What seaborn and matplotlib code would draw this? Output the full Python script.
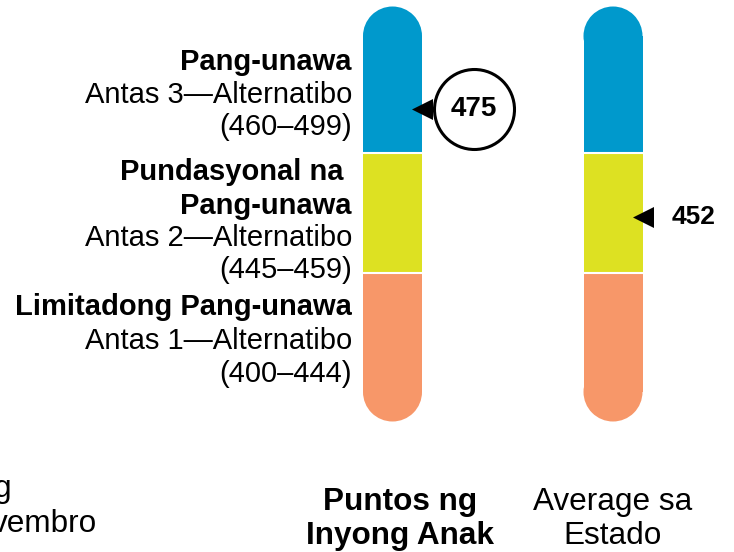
import numpy as np
import pandas as pd
import seaborn as sns
import matplotlib.pyplot as plt
from matplotlib.transforms import offset_copy

# data
groups = ["Puntos ng\nInyong Anak", "Average sa\nEstado"]
scores = [475, 452]
level_names = ["Limitadong Pang-unawa", "Pundasyonal na \nPang-unawa", "Pang-unawa"]
level_tiers = ["Antas 1\u2014Alternatibo", "Antas 2\u2014Alternatibo", "Antas 3\u2014Alternatibo"]
level_low = [400, 445, 460]
level_high = [445, 460, 500]
level_colors = ["#F79769", "#DDE122", "#0099CC"]
cut_text = ["g", "vembro"]

sns.set_style("white")
plt.rcParams["font.family"] = ["Liberation Sans", "DejaVu Sans"]
plt.rcParams["text.color"] = "black"
plt.rcParams["xtick.color"] = "black"
plt.rcParams["xtick.labelcolor"] = "black"

W, H = 734, 552
fig = plt.figure(figsize=(W / 100, H / 100), dpi=100)

# axes placed so category 0/1 fall on the two bars
unit = 220.5
ax_left = 392.5 - 0.5 * unit
ax_bottom = 82
ax = fig.add_axes([ax_left / W, ax_bottom / H, 2 * unit / W, (H - ax_bottom) / H])

bar_w = 59 / unit
for lo, hi, c in zip(level_low, level_high, level_colors):
    sns.barplot(x=groups, y=[hi - lo] * len(groups), bottom=lo, color=c,
                saturation=1, width=bar_w, linewidth=0, errorbar=None,
                zorder=2, ax=ax)

# score axis drawn piecewise so each band gets its visual height
knot_score = np.array([400, 445, 460, 500], dtype=float)
knot_pos = np.array([160, 279, 399, 516], dtype=float)
s_lo = (knot_pos[1] - knot_pos[0]) / (knot_score[1] - knot_score[0])
s_hi = (knot_pos[-1] - knot_pos[-2]) / (knot_score[-1] - knot_score[-2])


def fwd(v):
    v = np.asarray(v, dtype=float)
    out = np.interp(v, knot_score, knot_pos)
    out = np.where(v < knot_score[0], knot_pos[0] + (v - knot_score[0]) * s_lo, out)
    out = np.where(v > knot_score[-1], knot_pos[-1] + (v - knot_score[-1]) * s_hi, out)
    return out


def inv(p):
    p = np.asarray(p, dtype=float)
    out = np.interp(p, knot_pos, knot_score)
    out = np.where(p < knot_pos[0], knot_score[0] + (p - knot_pos[0]) / s_lo, out)
    out = np.where(p > knot_pos[-1], knot_score[-1] + (p - knot_pos[-1]) / s_hi, out)
    return out


ax.set_yscale("function", functions=(fwd, inv))
ax.set_ylim(float(inv(ax_bottom)), float(inv(H)))
ax.set_xlim(-0.5, 1.5)

# rounded ends
xs = np.arange(len(groups))
cap_pt = 59 * 0.72
ax.scatter(np.r_[xs, xs], [level_low[0]] * 2 + [level_high[-1]] * 2,
           s=cap_pt ** 2, c=[level_colors[0]] * 2 + [level_colors[-1]] * 2,
           linewidths=0, zorder=1)

# thin white separators
for i in xs:
    ax.hlines(level_low[1:], i - bar_w / 2, i + bar_w / 2, color="white",
              lw=1.5, zorder=3)

# score pointers
ax.scatter(xs + bar_w / 2, scores, marker="<", s=(21 * 0.72) ** 2,
           color="black", linewidths=0, zorder=4)

circ_tr = offset_copy(ax.transData, fig=fig, x=52 * 0.72, y=0, units="points")
ax.scatter([xs[0] + bar_w / 2], [scores[0]], transform=circ_tr,
           s=(80 * 0.72) ** 2, facecolor="white", edgecolor="black",
           linewidths=2.2, zorder=5)
ax.annotate(str(scores[0]), xy=(xs[0] + bar_w / 2, scores[0]),
            xytext=(52 * 0.72, 0), textcoords="offset points",
            ha="center", va="center", fontsize=20, fontweight="bold", zorder=6)
ax.annotate(str(scores[1]), xy=(xs[1] + bar_w / 2, scores[1]),
            xytext=(29 * 0.72, 0), textcoords="offset points",
            ha="left", va="center", fontsize=19, fontweight="bold", zorder=6)

# x labels
ax.tick_params(axis="x", length=0, pad=12, labelsize=22.7)
labs = ax.get_xticklabels()
for lab in labs:
    lab.set_linespacing(1.2)
labs[0].set_fontweight("bold")
offset_tr = offset_copy(labs[0].get_transform(), fig=fig, x=8 * 0.72, y=0, units="points")
labs[0].set_transform(offset_tr)
ax.set_yticks([])
ax.set_xlabel("")
ax.set_ylabel("")
sns.despine(ax=ax, left=True, bottom=True)

# band legend on the left, one line at a time
baselines = [[315, 349, 382], [180, 214, 246, 278], [70, 103, 135]]
for name, tier, lo, hi, ys in zip(level_names, level_tiers, level_low,
                                  level_high, baselines):
    lines = [(t, "bold") for t in name.split("\n")]
    lines += [(tier, "normal"), (f"({lo}\u2013{hi - 1})", "normal")]
    for (t, wgt), y in zip(lines, ys):
        fig.text(352 / W, 1 - y / H, t, ha="right", va="baseline",
                 fontsize=21, fontweight=wgt)

# text cut off at the left edge, as in the source
fig.text(11 / W, 1 - 497 / H, cut_text[0], ha="right", va="baseline", fontsize=22.7)
fig.text(97 / W, 1 - 532 / H, cut_text[1], ha="right", va="baseline", fontsize=22.7)

fig.savefig("out.png", dpi=100)
